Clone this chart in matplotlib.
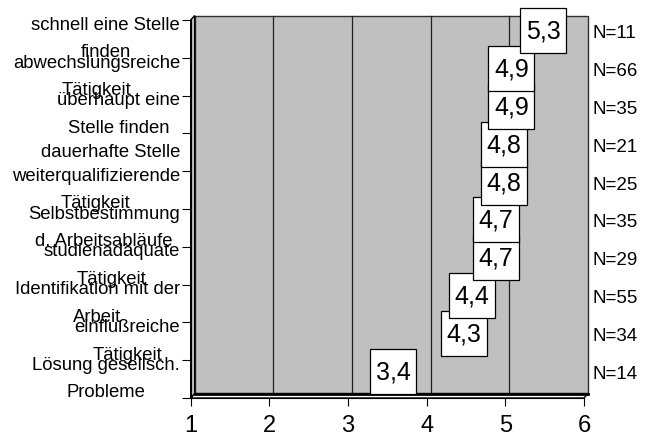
import matplotlib
matplotlib.use("Agg")
import matplotlib.pyplot as plt
from matplotlib.patches import Rectangle, Polygon
from matplotlib.transforms import ScaledTranslation

plt.rcParams["font.family"] = ["Liberation Sans", "DejaVu Sans"]

# --- data (top row first) ---
categories = [
    "schnell eine Stelle\nfinden",
    "abwechslungsreiche\nTätigkeit",
    "überhaupt eine\nStelle finden",
    "dauerhafte Stelle",
    "weiterqualifizierende\nTätigkeit",
    "Selbstbestimmung\nd. Arbeitsabläufe",
    "studienadäquate\nTätigkeit",
    "Identifikation mit der\nArbeit",
    "einflußreiche\nTätigkeit",
    "Lösung gesellsch.\nProbleme",
]
means = [5.3, 4.9, 4.9, 4.8, 4.8, 4.7, 4.7, 4.4, 4.3, 3.4]
counts = [11, 66, 35, 21, 25, 35, 29, 55, 34, 14]
x_ticks = [1, 2, 3, 4, 5, 6]

W, H, DPI = 645, 442, 100
fig = plt.figure(figsize=(W / DPI, H / DPI), dpi=DPI)
ax = fig.add_axes([190.7 / W, 44 / H, 393.3 / W, 378 / H])
n = len(categories)
ax.set_xlim(1, 6)
ax.set_ylim(n, 0)
ax.set_facecolor("none")
for s in ("top", "right"):
    ax.spines[s].set_visible(False)

# 3D depth offset of the back wall (pixels)
dpx, dpy = 4, 4.5
wall_t = ax.transData + ScaledTranslation(dpx / DPI, dpy / DPI, fig.dpi_scale_trans)
p = ax.transData.transform((1, n))
q = ax.transData.inverted().transform(p + [dpx, dpy])
dx, dy = q[0] - 1, q[1] - n

# back wall + grid
ax.add_patch(Rectangle((1, 0), 5, n, transform=wall_t, fc="#c0c0c0", ec="#303030",
                       lw=1, clip_on=False, zorder=0))
for x in x_ticks[1:-1]:
    ax.plot([x, x], [0, n], transform=wall_t, color="#202020", lw=0.9,
            clip_on=False, zorder=1)
ax.plot([1, 6], [n, n], transform=wall_t, color="black", lw=2, clip_on=False, zorder=2)

# floor and side strip
ax.add_patch(Polygon([(1, n), (6, n), (6 + dx, n + dy), (1 + dx, n + dy)],
                     fc="white", ec="black", lw=1, clip_on=False, zorder=1.5))
ax.add_patch(Polygon([(1, 0), (1, n), (1 + dx, n + dy), (1 + dx, dy)],
                     fc="#c0c0c0", ec="black", lw=1, clip_on=False, zorder=1.5))

# ticks
ax.set_xticks(x_ticks)
ax.set_xticklabels([str(t) for t in x_ticks])
ax.tick_params(axis="x", length=5.5, width=0.8, direction="out", labelsize=17, pad=6.8)
ax.set_yticks(range(n + 1))
ax.set_yticklabels([])
ax.set_yticks([i + 0.5 for i in range(n)], minor=True)
ax.set_yticklabels(categories, minor=True, fontsize=13.3, linespacing=1.8,
                   multialignment="center", va="center")
ax.tick_params(axis="y", which="major", length=6.5, width=0.8, direction="out")
ax.tick_params(axis="y", which="minor", length=0, pad=7.7)

# value labels
bw, bh = 46, 45
ox, oy = 14, 8
for i, v in enumerate(means):
    yc = i + 0.5
    t = fig.dpi_scale_trans + ScaledTranslation(v, yc, ax.transData)
    ax.add_patch(Rectangle(((ox - bw / 2) / DPI, (oy - bh / 2) / DPI), bw / DPI, bh / DPI,
                           transform=t, fc="white", ec="black", lw=0.9,
                           clip_on=False, zorder=20 - 2 * i))
    ax.annotate(f"{v:.1f}".replace(".", ","), xy=(v, yc), xytext=(ox, oy - 1),
                textcoords="offset pixels", ha="center", va="center",
                fontsize=18, zorder=21 - 2 * i, annotation_clip=False)

# N labels on the right
for i, c in enumerate(counts):
    ax.annotate(f"N={c}", xy=(1, i + 0.5), xycoords=ax.get_yaxis_transform(),
                xytext=(8, 5), textcoords="offset pixels", ha="left", va="center",
                fontsize=13.5, annotation_clip=False)

fig.savefig("out.png", dpi=DPI)
